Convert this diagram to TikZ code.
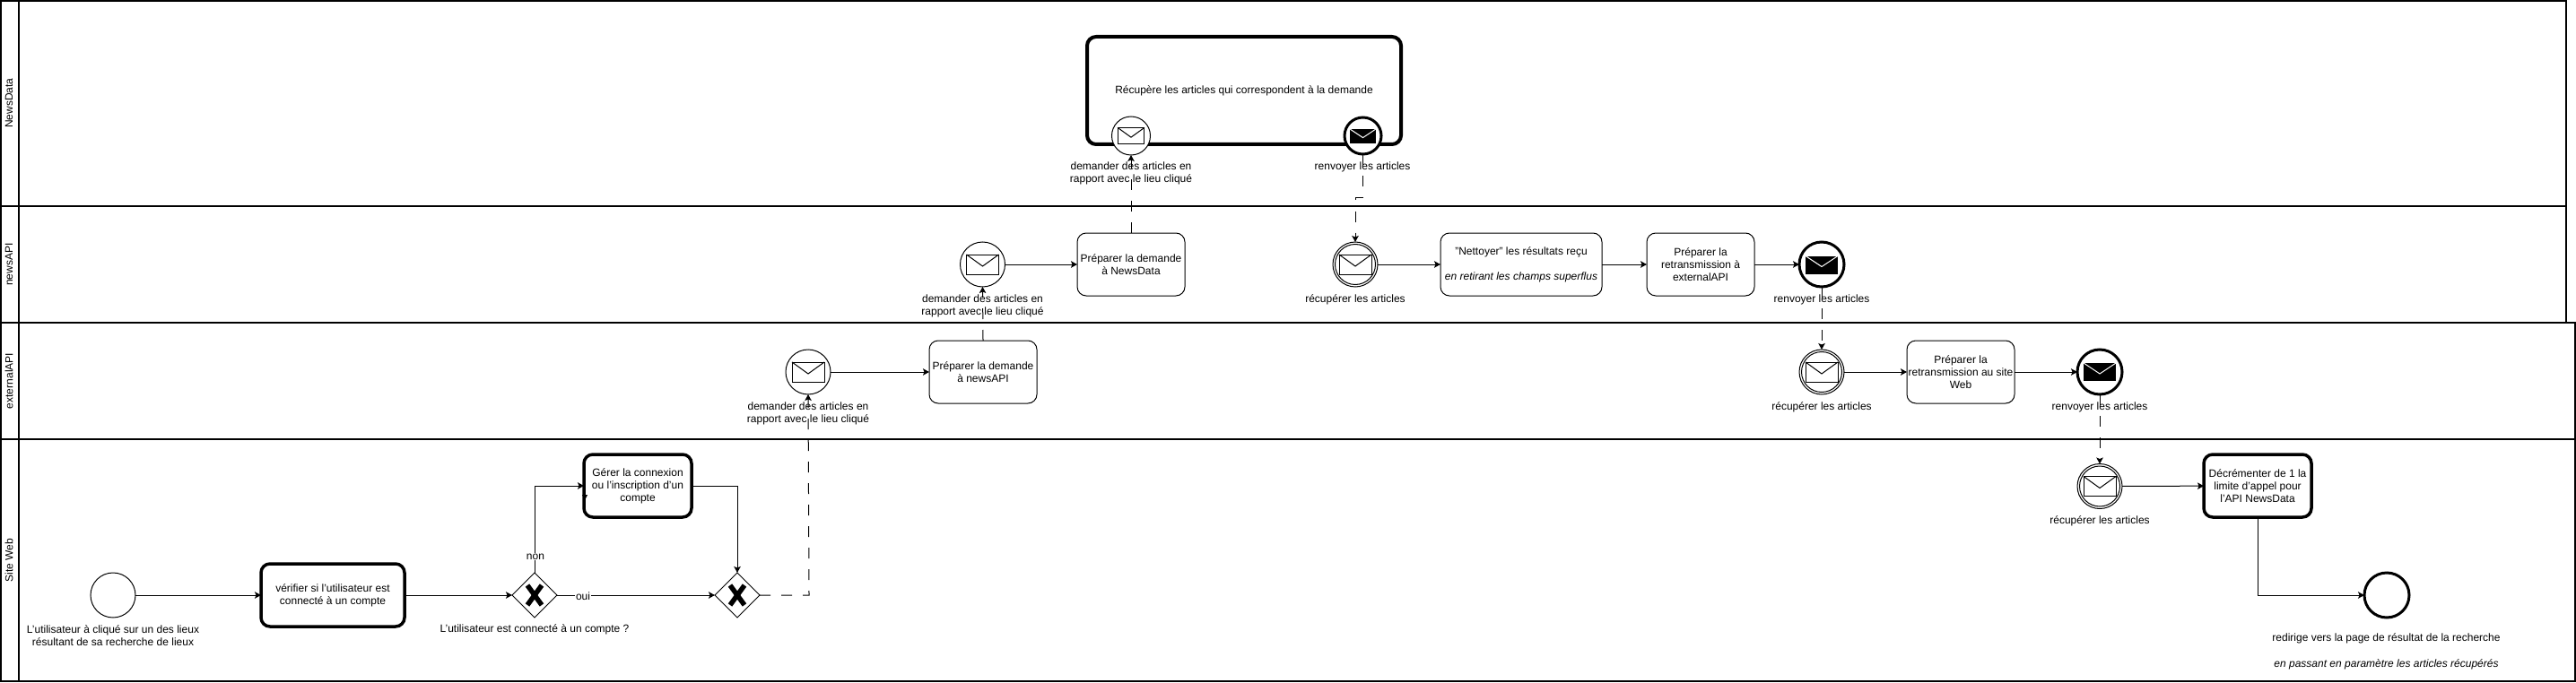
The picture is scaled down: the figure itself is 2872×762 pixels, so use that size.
\documentclass[tikz,border=0pt]{standalone}
\usepackage{fontspec}
\setmainfont{Liberation Sans}
\usetikzlibrary{shapes.geometric,arrows.meta}
\tikzset{
  x=1pt,y=-1pt,
  every node/.style={inner sep=0pt,outer sep=0pt},
  lanebox/.style={draw,line width=2pt},
  lanelabel/.style={rotate=90,font=\fontsize{12}{14}\selectfont},
  lbl/.style={align=center,font=\fontsize{12}{14}\selectfont},
  tasknode/.style={draw,fill=white,rounded corners=10pt,line width=1pt,minimum width=120pt,minimum height=70pt,align=center,font=\fontsize{12}{14}\selectfont},
  taskthick/.style={tasknode,line width=3.5pt},
  evt/.style={circle,draw,fill=white,line width=1pt,minimum size=50pt},
  evtthick/.style={evt,line width=3pt},
  gateway/.style={diamond,aspect=1,draw,fill=white,line width=1pt,minimum size=50pt},
  seqflow/.style={draw,line width=1pt,-{Stealth[length=7pt,width=7.5pt,inset=1.5pt]}},
  msgflow/.style={seqflow,dash pattern=on 12pt off 12pt},
  envopen/.pic={\draw[line width=1pt,fill=white] (-18,-11) rectangle (18,11);\draw[line width=1pt] (-18,-11) -- (0,2) -- (18,-11);},
  envsolid/.pic={\fill[black] (-18,-10) rectangle (18,10);\draw[white,line width=1pt] (-18,-10) -- (0,2) -- (18,-10);},
  gatex/.pic={\draw[line width=5.5pt] (-8,-11) -- (8,11);\draw[line width=5.5pt] (8,-11) -- (-8,11);}
}
\begin{document}
\begin{tikzpicture}
\useasboundingbox (0,0) rectangle (2872,762);
\fill[white] (0,0) rectangle (2872,762);
% lanes
\draw[lanebox] (1,1) rectangle (2861,230);
\draw[lanebox] (1,230) rectangle (2861,360);
\draw[lanebox] (1,360) rectangle (2871,490);
\draw[lanebox] (1,490) rectangle (2871,760);
\draw[lanebox] (21,1) -- (21,760);
\node[lanelabel] (lnews) at (10,115) {NewsData};
\node[lanelabel] (lapi) at (10,295) {newsAPI};
\node[lanelabel] (lext) at (10,425) {externalAPI};
\node[lanelabel] (lsite) at (10,625) {Site Web};
% tasks
\node[taskthick,minimum width=350pt,minimum height=120pt,line width=4pt] (tget) at (1387,101) {Récupère les articles qui correspondent à la demande};
\node[tasknode] (tnd) at (1261,295) {Préparer la demande\\à NewsData};
\node[tasknode,minimum width=180pt] (tclean) at (1696,295) {"Nettoyer" les résultats reçu\\[14pt]\textit{en retirant les champs superflus}};
\node[tasknode] (tret) at (1896,295) {Préparer la\\retransmission à\\externalAPI};
\node[tasknode] (tna) at (1096,415) {Préparer la demande\\à newsAPI};
\node[tasknode] (tsite) at (2186,415) {Préparer la\\retransmission au site\\Web};
\node[taskthick,minimum width=160pt] (tcheck) at (371,664) {vérifier si l'utilisateur est\\connecté à un compte};
\node[taskthick] (tlogin) at (711,542) {Gérer la connexion\\ou l'inscription d'un\\compte};
\node[taskthick] (tdec) at (2517,542) {Décrémenter de 1 la\\limite d'appel pour\\l'API NewsData};
% events
\node[evt,minimum size=43pt] (ereq) at (1261,151.5) {};
\node[evtthick,minimum size=41pt] (esend) at (1519.5,151.5) {};
\node[evt] (ea) at (1095.5,295) {};
\node[evt] (eb) at (1511,295) {};
\node[evtthick] (ec) at (2031,295) {};
\node[evt] (ed) at (901,415) {};
\node[evt] (ee) at (2031,415) {};
\node[evtthick] (ef) at (2341,415) {};
\node[evt] (eg) at (2341,542.5) {};
\node[evt] (estart) at (126,664) {};
\node[evtthick] (eend) at (2661,664) {};
\draw[line width=1pt] (eb) circle[radius=22.5];
\draw[line width=1pt] (ee) circle[radius=22.5];
\draw[line width=1pt] (eg) circle[radius=22.5];
% envelopes
\pic[scale=0.83] at (1261,151.5) {envopen};
\pic[scale=0.8] at (1519.5,152) {envsolid};
\pic at (1095.5,295) {envopen};
\pic at (1511,295) {envopen};
\pic at (2031,295.5) {envsolid};
\pic at (901,415) {envopen};
\pic at (2031,415) {envopen};
\pic at (2341,415) {envsolid};
\pic at (2341,542.5) {envopen};
% gateways
\node[gateway] (g1) at (596,664) {};
\node[gateway] (g2) at (822,664) {};
\pic at (596,664) {gatex};
\pic at (822,664) {gatex};
\coordinate (c1) at (902,664);
\coordinate (c2) at (1519.5,221);
\coordinate (c3) at (1511,221);
% sequence flows
\draw[seqflow] (estart) -- (tcheck);
\draw[seqflow] (tcheck) -- (g1);
\draw[seqflow] (g1) -- (g2);
\draw[seqflow] (g1.north) |- (tlogin.west);
\fill (649,552) -- (655,552) -- (652,558) -- cycle;
\draw[seqflow] (tlogin.east) -| (g2.north);
\draw[seqflow] (ed) -- (tna);
\draw[seqflow] (ea) -- (tnd);
\draw[seqflow] (eb) -- (tclean);
\draw[seqflow] (tclean) -- (tret);
\draw[seqflow] (tret) -- (ec);
\draw[seqflow] (ee) -- (tsite);
\draw[seqflow] (tsite) -- (ef);
\draw[seqflow] (eg) -- (tdec);
\draw[seqflow] (tdec.south) |- (eend.west);
% message flows
\draw[msgflow] (g2.east) -- (c1) -- (ed.south);
\draw[msgflow] (tna.north) -- (ea.south);
\draw[msgflow] (tnd.north) -- (ereq.south);
\draw[msgflow] (esend.south) -- (c2) -- (c3) -- (eb.north);
\draw[msgflow] (ec.south) -- (ee.north);
\draw[msgflow] (ef.south) -- (eg.north);
% labels
\node[lbl,fill=white,inner sep=1pt] (lnon) at (597,621) {non};
\node[lbl,fill=white,inner sep=1pt] (loui) at (650,665) {oui};
\node[lbl] (l1) at (126,709) {L'utilisateur à cliqué sur un des lieux\\résultant de sa recherche de lieux};
\node[lbl] (l2) at (596,702) {L'utilisateur est connecté à un compte ?};
\node[lbl] (l3) at (901,461) {demander des articles en\\rapport avec le lieu cliqué};
\node[lbl] (l4) at (1095.5,341) {demander des articles en\\rapport avec le lieu cliqué};
\node[lbl] (l5) at (1261,193) {demander des articles en\\rapport avec le lieu cliqué};
\node[lbl] (l6) at (1519,186) {renvoyer les articles};
\node[lbl] (l7) at (1511,334) {récupérer les articles};
\node[lbl] (l8) at (2031,334) {renvoyer les articles};
\node[lbl] (l9) at (2031,454) {récupérer les articles};
\node[lbl] (l10) at (2341,454) {renvoyer les articles};
\node[lbl] (l11) at (2341,581) {récupérer les articles};
\node[lbl] (l12) at (2660.5,712) {redirige vers la page de résultat de la recherche};
\node[lbl] (l13) at (2660.5,741) {\textit{en passant en paramètre les articles récupérés}};
\end{tikzpicture}
\end{document}
